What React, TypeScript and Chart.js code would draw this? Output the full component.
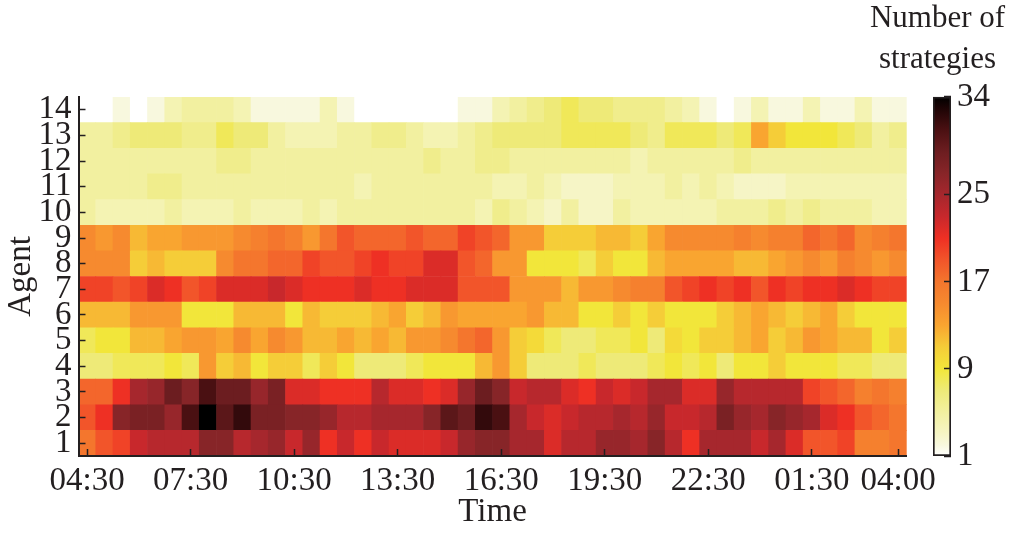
import React, { useEffect, useRef } from "react";
import { Chart, registerables } from "chart.js";

Chart.register(...registerables);

const times = [
  "04:30","05:00","05:30","06:00","06:30","07:00","07:30","08:00","08:30","09:00","09:30","10:00",
  "10:30","11:00","11:30","12:00","12:30","13:00","13:30","14:00","14:30","15:00","15:30","16:00",
  "16:30","17:00","17:30","18:00","18:30","19:00","19:30","20:00","20:30","21:00","21:30","22:00",
  "22:30","23:00","23:30","00:00","00:30","01:00","01:30","02:00","02:30","03:00","03:30","04:00",
];
const shownTimes = ["04:30","07:30","10:30","13:30","16:30","19:30","22:30","01:30","04:00"];

const agent1 = [17,19,20,23,24,24,24,27,27,24,25,26,23,26,21,23,21,23,22,22,22,23,26,27,27,25,25,22,24,24,26,26,25,27,24,21,25,25,25,23,25,22,19,19,20,16,16,17];
const agent2 = [19,21,27,28,28,26,31,34,30,32,28,28,27,27,26,24,24,25,25,25,27,30,29,32,31,25,23,22,23,24,24,25,24,26,23,23,24,28,26,25,27,26,25,22,21,19,18,17];
const agent3 = [18,18,21,25,26,29,27,31,29,29,26,28,22,22,21,21,21,24,22,22,21,22,26,29,27,23,24,24,22,21,23,22,23,25,25,22,22,26,24,24,24,24,20,19,18,16,17,16];
const agent4 = [7,7,8,8,8,9,8,14,11,12,9,11,11,8,11,9,7,7,7,8,9,9,9,12,14,11,7,7,7,8,7,7,7,8,9,8,9,7,9,9,11,9,9,9,8,8,7,7];
const agent5 = [8,9,9,12,12,13,14,14,13,15,13,15,14,12,12,13,12,13,12,14,14,15,17,18,14,11,10,8,7,7,8,8,9,7,10,9,11,11,12,13,11,12,14,13,12,12,9,11];
const agent6 = [12,12,12,14,14,14,9,9,9,12,12,12,9,12,11,11,11,12,13,11,12,14,13,13,13,13,14,12,12,9,9,11,9,11,9,9,9,11,12,13,12,11,12,13,11,9,9,9];
const agent7 = [20,20,19,20,22,21,19,20,22,22,22,23,22,21,21,21,22,21,21,22,22,22,19,19,19,14,14,14,12,14,14,15,16,16,19,20,21,20,21,19,21,20,21,21,22,21,20,20];
const agent8 = [15,15,15,11,12,11,11,11,15,17,17,18,18,20,19,19,20,21,20,20,22,22,19,18,14,14,9,9,9,8,11,9,9,12,13,13,13,13,12,12,13,14,15,14,16,15,14,15];
const agent9 = [15,14,15,12,13,13,14,14,14,15,16,17,16,14,17,19,18,18,18,19,18,18,20,19,18,14,14,11,11,11,12,12,11,13,15,15,15,15,16,15,16,16,18,17,18,15,16,17];
const agent10 = [5,4,4,4,4,5,4,4,4,5,4,4,4,5,4,5,5,5,5,5,5,5,5,4,6,5,4,3,5,3,3,5,4,4,4,4,4,5,5,5,6,5,6,5,5,5,4,4];
const agent11 = [5,5,5,5,6,6,5,5,5,5,5,5,5,5,5,5,4,5,5,5,5,5,5,5,4,4,5,4,3,3,3,4,4,4,5,4,5,4,3,3,3,4,4,4,4,4,4,4];
const agent12 = [5,5,5,5,5,5,5,5,6,6,5,5,5,5,5,5,5,5,5,5,6,5,5,6,6,5,5,5,5,5,5,5,4,5,5,5,5,5,6,5,5,5,5,5,5,5,5,5];
const agent13 = [5,5,6,7,7,7,6,6,8,7,7,5,4,4,4,5,5,6,6,5,4,4,5,6,7,7,7,7,8,8,8,8,7,6,8,8,8,7,8,13,11,9,9,9,8,7,5,6];
const agent14 = [1,1,2,1,2,4,5,5,5,4,2,2,2,2,4,2,1,1,1,1,1,1,2,2,4,5,6,7,8,7,7,6,6,6,5,4,2,1,2,4,2,2,4,2,2,4,2,2];
const agentRows = [agent1,agent2,agent3,agent4,agent5,agent6,agent7,agent8,agent9,agent10,agent11,agent12,agent13,agent14];

const scaleValues = [1,2,3,5,7,9,11,13,15,17,19,21,23,25,27,29,31,33,34];
const scaleColors = ["#ffffff","#f8f8de","#f6f5c6","#f2f0a0","#eeea78","#f2e63a","#f5cd38","#f9a530","#f68a2f","#f4762d","#f2552a","#ee3024","#c8282c","#a6272d","#872528","#6c1d20","#4a1012","#1c0405","#000000"];
const colorbarTicks = [1,9,17,25,34];

const hexToRgb = (h: string) => [1,3,5].map((i) => parseInt(h.slice(i, i + 2), 16));
function colorOf(v: number): string {
  let i = 0;
  while (i < scaleValues.length - 2 && v > scaleValues[i + 1]) i++;
  const t = (v - scaleValues[i]) / (scaleValues[i + 1] - scaleValues[i]);
  const a = hexToRgb(scaleColors[i]), b = hexToRgb(scaleColors[i + 1]);
  return `rgb(${a.map((c, k) => Math.round(c + (b[k] - c) * t)).join(",")})`;
}

const FONT = "'Liberation Serif', serif";
const INK = "#231f20";

export default function App() {
  const mainRef = useRef<HTMLCanvasElement>(null);
  const barRef = useRef<HTMLCanvasElement>(null);

  useEffect(() => {
    const main = new Chart(mainRef.current!, {
      type: "bar",
      data: {
        labels: times,
        datasets: agentRows.map((row, i) => ({
          label: String(i + 1),
          data: row.map(() => 1),
          backgroundColor: row.map(colorOf),
          borderWidth: 0,
          barPercentage: 1,
          categoryPercentage: 1,
        })),
      },
      options: {
        animation: false,
        responsive: false,
        layout: { padding: { top: 97, right: 112.3, bottom: 0, left: 0 } },
        plugins: { legend: { display: false }, tooltip: { enabled: false }, title: { display: false } },
        scales: {
          x: {
            type: "category",
            stacked: true,
            afterBuildTicks: (s: any) => { s.ticks = s.ticks.filter((t: any) => shownTimes.includes(times[t.value]) ); },
            afterFit: (s: any) => { s.height = 77; },
            grid: { drawOnChartArea: false, tickLength: -7, tickWidth: 1.5, tickColor: INK, z: 1, offset: false },
            border: { color: INK, width: 2, z: 1 },
            ticks: {
              autoSkip: false, maxRotation: 0, minRotation: 0, color: INK, padding: 13,
              font: { family: FONT, size: 33 },
              callback: (v: any) => times[v as number],
            },
            title: { display: true, text: "Time", color: INK, font: { family: FONT, size: 33 }, padding: { top: 0, bottom: 1 } },
          },
          y: {
            type: "linear",
            stacked: true,
            min: 0,
            max: 14,
            afterBuildTicks: (s: any) => { s.ticks = agentRows.map((_, i) => ({ value: i + 0.5 })); },
            afterFit: (s: any) => { s.width = 78.5; },
            grid: { drawOnChartArea: false, tickLength: -7, tickWidth: 1.5, tickColor: INK, z: 1 },
            border: { color: INK, width: 2, z: 1 },
            ticks: {
              autoSkip: false, color: INK, padding: 14,
              font: { family: FONT, size: 33 },
              callback: (v: any) => String(Number(v) + 0.5),
            },
            title: { display: true, text: "Agent", color: INK, font: { family: FONT, size: 33 }, padding: { top: 2, bottom: 0 } },
          },
        },
      } as any,
    });

    const bar = new Chart(barRef.current!, {
      type: "bar",
      data: {
        labels: [""],
        datasets: [{
          data: [[1, 34]],
          xAxisID: "x",
          yAxisID: "y",
          barPercentage: 1,
          categoryPercentage: 1,
          borderWidth: 2,
          borderColor: INK,
          borderSkipped: false,
          backgroundColor: (ctx: any) => {
            const { chart } = ctx;
            const area = chart.chartArea;
            if (!area) return "#ffffff";
            const g = chart.ctx.createLinearGradient(0, area.bottom, 0, area.top);
            scaleValues.forEach((v, i) => g.addColorStop((v - 1) / 33, scaleColors[i]));
            return g;
          },
        }],
      },
      options: {
        animation: false,
        responsive: false,
        layout: { padding: { top: 0, right: 0, bottom: 77, left: 0 } },
        plugins: {
          legend: { display: false },
          tooltip: { enabled: false },
          title: {
            display: true,
            text: ["Number of", "strategies"],
            color: INK,
            font: { family: FONT, size: 31, weight: "normal", lineHeight: 1.32 },
            padding: { top: -2, bottom: 17 },
          },
        },
        scales: {
          x: { type: "category", display: false },
          spacer: {
            type: "linear",
            position: "left",
            min: 0,
            max: 1,
            afterFit: (s: any) => { s.width = 77; },
            grid: { display: false },
            border: { display: false },
            ticks: { display: false },
          },
          y: {
            type: "linear",
            position: "right",
            min: 1,
            max: 34,
            afterBuildTicks: (s: any) => { s.ticks = colorbarTicks.map((value) => ({ value })); },
            afterFit: (s: any) => { s.width = 68; },
            grid: { drawOnChartArea: false, tickLength: -7, tickWidth: 1.5, tickColor: INK, z: 1 },
            border: { display: false },
            ticks: { autoSkip: false, color: INK, padding: 13, font: { family: FONT, size: 33 } },
          },
        },
      } as any,
    });

    return () => { main.destroy(); bar.destroy(); };
  }, []);

  return (
    <div style={{ position: "absolute", left: 0, top: 0, width: 1019, height: 533, background: "#fff" }}>
      <canvas ref={mainRef} width={1019} height={533} style={{ position: "absolute", left: 0, top: 0, display: "block" }} />
      <canvas ref={barRef} width={163} height={533} style={{ position: "absolute", left: 856, top: 0, display: "block" }} />
    </div>
  );
}
